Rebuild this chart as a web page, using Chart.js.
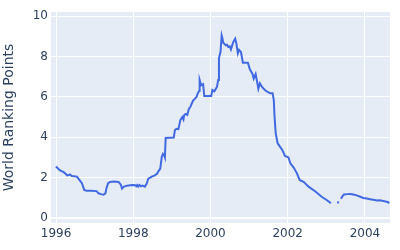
<!DOCTYPE html>
<html>
<head>
<meta charset="utf-8">
<script src="https://cdn.jsdelivr.net/npm/chart.js@4"></script>
<style>
  html, body { margin: 0; padding: 0; background: #fff; }
  #wrap { width: 400px; height: 250px; }
</style>
</head>
<body>
<div id="wrap"><canvas id="rankChart"></canvas></div>
<script>
// world ranking points over time (null = gap in the record)
const years = [
  1996.00, 1996.02, 1996.05, 1996.09, 1996.14, 1996.19, 1996.24, 1996.29, 1996.33, 1996.36,
  1996.41, 1996.47, 1996.54, 1996.58, 1996.62, 1996.67, 1996.71, 1996.73, 1996.79, 1996.90,
  1997.05, 1997.10, 1997.16, 1997.23, 1997.28, 1997.31, 1997.35, 1997.40, 1997.50, 1997.62,
  1997.68, 1997.71, 1997.76, 1997.84, 1997.92, 1998.00, 1998.05, 1998.08, 1998.10, 1998.13,
  1998.16, 1998.20, 1998.24, 1998.30, 1998.35, 1998.39, 1998.44, 1998.48, 1998.56, 1998.62,
  1998.65, 1998.70, 1998.74, 1998.77, 1998.80, 1998.82, 1998.84, 1998.95, 1999.05, 1999.08,
  1999.13, 1999.17, 1999.22, 1999.27, 1999.30, 1999.32, 1999.36, 1999.40, 1999.44, 1999.48,
  1999.55, 1999.60, 1999.64, 1999.67, 1999.71, 1999.72, 1999.76, 1999.81, 1999.84, 1999.95,
  2000.02, 2000.05, 2000.10, 2000.14, 2000.17, 2000.20, 2000.22, 2000.26, 2000.29, 2000.31,
  2000.33, 2000.37, 2000.40, 2000.43, 2000.46, 2000.50, 2000.53, 2000.59, 2000.64, 2000.67,
  2000.71, 2000.74, 2000.79, 2000.84, 2000.97, 2001.02, 2001.09, 2001.12, 2001.17, 2001.21,
  2001.24, 2001.28, 2001.33, 2001.41, 2001.48, 2001.55, 2001.61, 2001.64, 2001.66, 2001.69,
  2001.74, 2001.80, 2001.86, 2001.93, 2002.02, 2002.07, 2002.16, 2002.24, 2002.31, 2002.42,
  2002.54, 2002.71, 2002.88, 2003.01, 2003.12, 2003.20, 2003.30, 2003.31, 2003.35, 2003.38,
  2003.42, 2003.46, 2003.55, 2003.62, 2003.70, 2003.79, 2003.88, 2003.96, 2004.05, 2004.13,
  2004.22, 2004.31, 2004.38, 2004.45, 2004.53, 2004.60, 2004.63
];
const points = [
  2.55, 2.51, 2.45, 2.38, 2.32, 2.28, 2.20, 2.11, 2.12, 2.15,
  2.08, 2.07, 2.05, 1.95, 1.85, 1.72, 1.50, 1.39, 1.35, 1.35,
  1.33, 1.22, 1.18, 1.15, 1.22, 1.50, 1.72, 1.78, 1.80, 1.78,
  1.65, 1.45, 1.55, 1.60, 1.62, 1.63, 1.62, 1.57, 1.63, 1.55,
  1.63, 1.57, 1.60, 1.55, 1.70, 1.95, 2.00, 2.05, 2.11, 2.20,
  2.31, 2.44, 3.04, 3.17, 3.10, 3.00, 3.96, 3.97, 3.98, 4.36,
  4.42, 4.40, 4.85, 5.00, 4.88, 5.10, 5.15, 5.10, 5.40, 5.51,
  5.81, 5.91, 6.00, 6.17, 6.30, 6.83, 6.57, 6.63, 6.04, 6.04,
  6.04, 6.34, 6.27, 6.40, 6.50, 6.83, 7.92, 8.22, 9.04, 8.90,
  8.68, 8.60, 8.55, 8.58, 8.48, 8.50, 8.35, 8.71, 8.88, 8.65,
  8.15, 8.32, 8.22, 7.69, 7.69, 7.36, 7.13, 6.90, 7.13, 6.73,
  6.40, 6.67, 6.50, 6.34, 6.24, 6.17, 6.17, 5.84, 5.02, 4.19,
  3.70, 3.53, 3.37, 3.07, 3.00, 2.71, 2.48, 2.21, 1.88, 1.78,
  1.55, 1.32, 1.05, 0.89, 0.73, null, 0.72, 0.82, null, 0.95,
  1.08, 1.16, 1.18, 1.19, 1.16, 1.12, 1.05, 0.99, 0.96, 0.93,
  0.90, 0.86, 0.88, 0.85, 0.82, 0.78, 0.73
];
const yTicks = [0, 2, 4, 6, 8, 10];
const xTicks = [1996, 1998, 2000, 2002, 2004];

const textColor = '#2a3f5f';
const fontFamily = "'DejaVu Sans', sans-serif";

// plotly-like plot background
const plotBg = {
  id: 'plotBg',
  beforeDraw(chart) {
    const { ctx, chartArea: a } = chart;
    ctx.save();
    ctx.fillStyle = '#E5ECF6';
    ctx.fillRect(a.left, a.top, a.right - a.left, a.bottom - a.top);
    ctx.restore();
  }
};

new Chart(document.getElementById('rankChart'), {
  type: 'line',
  data: {
    datasets: [{
      data: years.map((x, i) => ({ x: x, y: points[i] })),
      borderColor: '#4169E1',
      borderWidth: 2,
      pointRadius: 0,
      tension: 0,
      spanGaps: false,
      fill: false
    }]
  },
  options: {
    responsive: true,
    maintainAspectRatio: false,
    animation: false,
    layout: { padding: { top: 12, right: 10, left: 0, bottom: 0 } },
    plugins: {
      legend: { display: false },
      tooltip: { enabled: false }
    },
    scales: {
      x: {
        type: 'linear',
        min: 1995.87,
        max: 2004.65,
        afterFit: s => { s.height = 27; },
        afterBuildTicks: s => { s.ticks = xTicks.map(v => ({ value: v })); },
        grid: { color: '#ffffff', lineWidth: 1, drawTicks: false },
        border: { display: false },
        ticks: {
          padding: 4,
          color: textColor,
          font: { family: fontFamily, size: 12 },
          maxRotation: 0,
          callback: v => String(v)
        }
      },
      y: {
        min: -0.25,
        max: 10.2,
        afterFit: s => { s.width = 51; },
        afterBuildTicks: s => { s.ticks = yTicks.map(v => ({ value: v })); },
        grid: {
          color: '#ffffff',
          lineWidth: c => (c.tick && c.tick.value === 0 ? 2 : 1),
          drawTicks: false
        },
        border: { display: false },
        ticks: {
          padding: 3,
          color: textColor,
          font: { family: fontFamily, size: 12 },
          callback: v => String(v)
        },
        title: {
          display: true,
          text: 'World Ranking Points',
          color: textColor,
          font: { family: fontFamily, size: 14, weight: 'normal' },
          padding: { top: 1, bottom: 0 }
        }
      }
    }
  },
  plugins: [plotBg]
});
</script>
</body>
</html>
